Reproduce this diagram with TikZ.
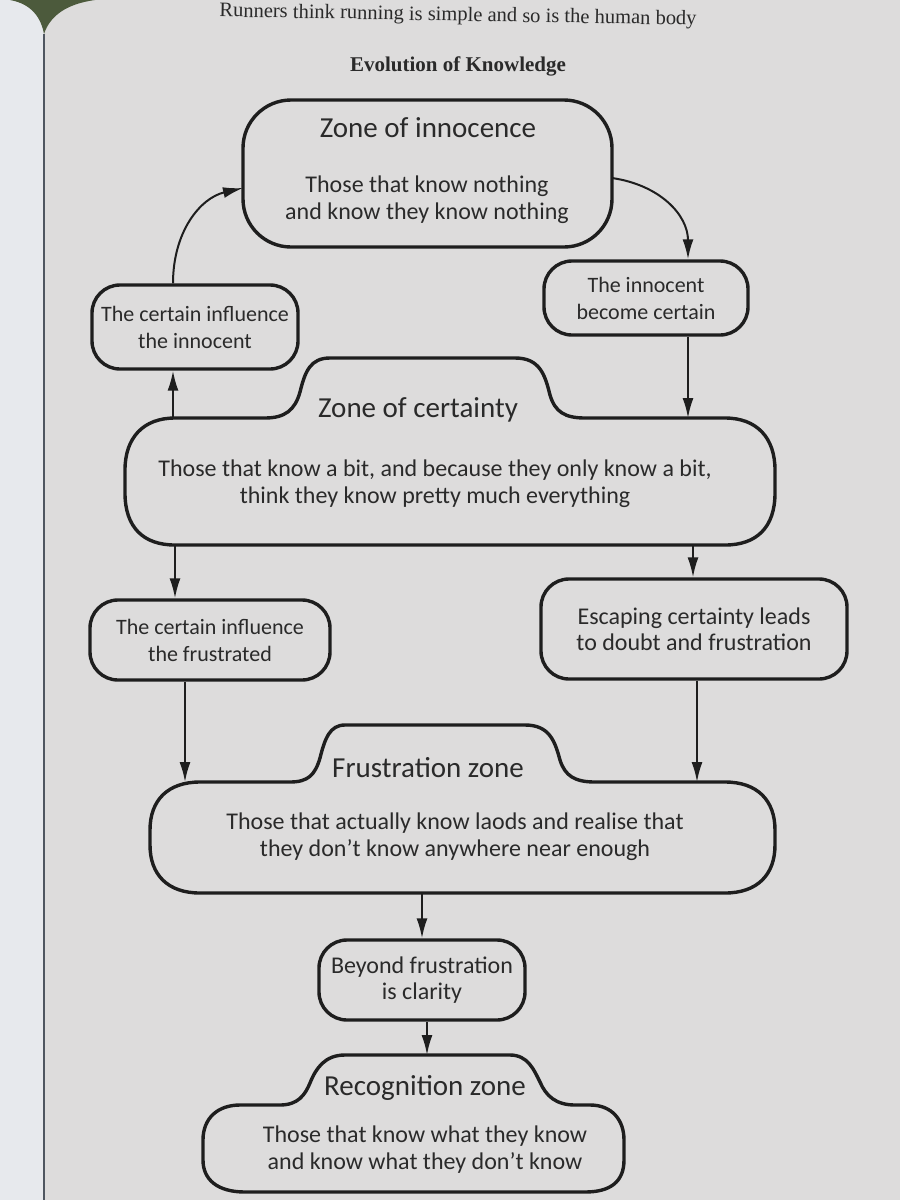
\documentclass[tikz,border=0pt]{standalone}
\usepackage{fontspec}
\setmainfont{Liberation Serif}
\newfontfamily\hand{Carlito}
\usetikzlibrary{arrows.meta,calc}
\definecolor{inkc}{HTML}{1E1E1E}
\definecolor{txtc}{HTML}{2A2A2A}
\definecolor{pagec}{HTML}{DDDCDC}
\definecolor{leftpage}{HTML}{E7E9ED}
\definecolor{grass}{HTML}{4C5A3C}
\definecolor{gutter}{HTML}{4F5660}
\begin{document}
\begin{tikzpicture}[x=1pt,y=-1pt,
  ink/.style={draw=inkc, line width=3.4pt, line join=round},
  box/.style={ink, rounded corners=28pt, font=\hand\fontsize{22}{27}\selectfont, text=txtc, align=center, inner sep=0pt},
  bigbox/.style={box, font=\hand\fontsize{24}{26}\selectfont},
  ztitle/.style={font=\hand\fontsize{29}{32}\selectfont, text=txtc, inner sep=0pt},
  zbody/.style={font=\hand\fontsize{24}{27}\selectfont, text=txtc, align=center, inner sep=0pt},
  arr/.style={draw=inkc, line width=2pt, -{Latex[length=20pt,width=11pt]}},
]
% page / background
\useasboundingbox (0,0) rectangle (900,1200);
\fill[pagec] (0,0) rectangle (900,1200);
\fill[leftpage] (0,0) rectangle (44,1200);
\fill[grass] (10,0) .. controls (32,4) and (41,18) .. (44,34) .. controls (50,16) and (66,4) .. (95,0) -- cycle;
\draw[gutter, line width=2pt] (44,34) -- (44,1200);

% headings
\node[font=\fontsize{20.5}{24}\selectfont, text=txtc, rotate=-1] (hdr) at (458,16) {Runners think running is simple and so is the human body};
\node[font=\bfseries\fontsize{21}{24}\selectfont, text=txtc] (ttl) at (458,66) {Evolution of Knowledge};

% Zone of innocence
\node[ink, rounded corners=48pt, minimum width=369pt, minimum height=147pt] (zi) at (427.5,173.5) {};
\node[ztitle] (zit) at (428,128) {Zone of innocence};
\node[zbody] (zib) at (427,200) {Those that know nothing\\and know they know nothing};

% small boxes
\node[box, minimum width=204pt, minimum height=74pt] (b1) at (646,298) {The innocent\\become certain};
\node[box, minimum width=206pt, minimum height=84pt] (b2) at (195,327) {The certain influence\\the innocent};
\node[box, minimum width=240pt, minimum height=80pt] (b3) at (210,640) {The certain influence\\the frustrated};
\node[bigbox, minimum width=306pt, minimum height=100pt] (b4) at (694,629) {Escaping certainty leads\\to doubt and frustration};
\node[bigbox, minimum width=206pt, minimum height=80pt] (b5) at (422,980) {Beyond frustration\\is clarity};

% Zone of certainty
\draw[ink] (330,358) -- (515,358) .. controls (540,358) and (545,375) .. (550,395)
  .. controls (555,412) and (565,418) .. (585,418) -- (725,418)
  .. controls (757,418) and (775,438) .. (775,470) -- (775,493)
  .. controls (775,527) and (757,545) .. (725,545) -- (175,545)
  .. controls (143,545) and (125,527) .. (125,493) -- (125,470)
  .. controls (125,438) and (143,418) .. (175,418) -- (265,418)
  .. controls (285,418) and (295,410) .. (300,392)
  .. controls (305,372) and (310,358) .. (330,358) -- cycle;
\node[ztitle] (zct) at (418,410) {Zone of certainty};
\node[zbody] (zcb) at (435,484) {Those that know a bit, and because they only know a bit,\\think they know pretty much everything};
\coordinate (zc-tl) at (173,418);
\coordinate (zc-tr) at (688,418);
\coordinate (zc-bl) at (175,545);
\coordinate (zc-br) at (693,545);

% Frustration zone
\draw[ink] (345,725) -- (525,725) .. controls (550,725) and (555,742) .. (560,760)
  .. controls (565,776) and (575,782) .. (595,782) -- (725,782)
  .. controls (757,782) and (775,800) .. (775,830) -- (775,845)
  .. controls (775,875) and (757,893) .. (725,893) -- (200,893)
  .. controls (168,893) and (150,875) .. (150,845) -- (150,830)
  .. controls (150,800) and (168,782) .. (200,782) -- (290,782)
  .. controls (308,782) and (315,775) .. (320,758)
  .. controls (325,738) and (330,725) .. (345,725) -- cycle;
\node[ztitle] (zft) at (428,768) {Frustration zone};
\node[zbody] (zfb) at (455,837) {Those that actually know laods and realise that\\they don’t know anywhere near enough};
\coordinate (zf-tl) at (185,782);
\coordinate (zf-tr) at (697,782);
\coordinate (zf-b) at (422,893);

% Recognition zone
\draw[ink] (345,1055) -- (510,1055) .. controls (528,1055) and (534,1070) .. (540,1082)
  .. controls (546,1096) and (556,1105) .. (575,1105) -- (590,1105)
  .. controls (612,1105) and (624,1120) .. (624,1140) -- (624,1160)
  .. controls (624,1182) and (610,1192) .. (585,1192) -- (245,1192)
  .. controls (218,1192) and (203,1180) .. (203,1160) -- (203,1140)
  .. controls (203,1118) and (218,1105) .. (240,1105) -- (280,1105)
  .. controls (298,1105) and (305,1095) .. (310,1083)
  .. controls (316,1068) and (325,1055) .. (345,1055) -- cycle;
\node[ztitle] (zrt) at (425,1088) {Recognition zone};
\node[zbody] (zrb) at (425,1150) {Those that know what they know\\and know what they don’t know};
\coordinate (zr-t) at (427,1055);

% connectors
\coordinate (zi-r) at (612,178);
\coordinate (zi-l) at (243,188);
\draw[arr] (zi-r) .. controls (660,185) and (688,215) .. (b1.north -| zc-tr);
\draw[arr] (b1.south -| zc-tr) -- (zc-tr);
\draw[arr] (zc-tl) -- (b2.south -| zc-tl);
\draw[arr] (b2.north -| zc-tl) .. controls (173,232) and (200,198) .. (zi-l);
\draw[arr] (zc-bl) -- (b3.north -| zc-bl);
\draw[arr] (zc-br) -- (b4.north -| zc-br);
\draw[arr] (b3.south -| zf-tl) -- (zf-tl);
\draw[arr] (b4.south -| zf-tr) -- (zf-tr);
\draw[arr] (zf-b) -- (b5.north -| zf-b);
\draw[arr] (b5.south -| zr-t) -- (zr-t);
\end{tikzpicture}
\end{document}
